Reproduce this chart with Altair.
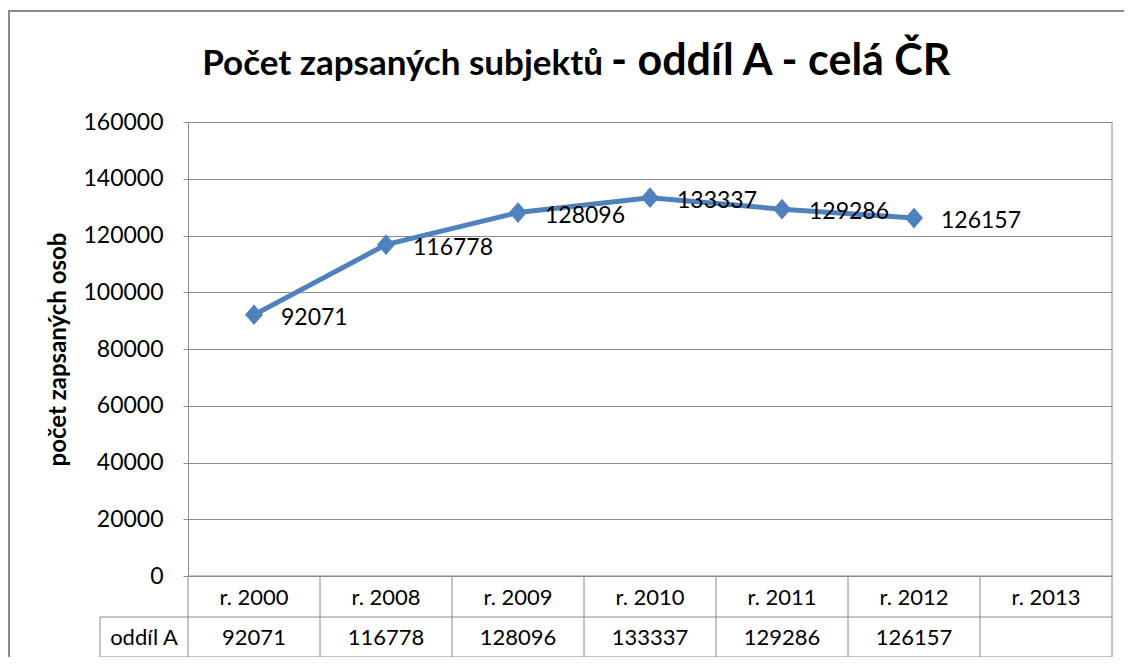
import altair as alt
import pandas as pd

categories = ["r. 2000", "r. 2008", "r. 2009", "r. 2010", "r. 2011", "r. 2012", "r. 2013"]
values = [92071, 116778, 128096, 133337, 129286, 126157, None]
y_ticks = [0, 20000, 40000, 60000, 80000, 100000, 120000, 140000, 160000]
series_name = "oddíl A"
title_small = "Počet zapsaných subjektů"
title_large = "- oddíl A - celá ČR"
y_title = "počet zapsaných osob"

FONT = "Lato"
BLUE = "#4F81BD"
GRAY = "#8a8a8a"
W, H = 924, 454
ROW1, ROW2 = 41, 40

df = pd.DataFrame({
    "cat": categories,
    "val": values,
    "lab": ["" if v is None else str(v) for v in values],
})
df_valid = df.dropna(subset=["val"])

xenc = alt.X("cat:N", sort=categories,
             scale=alt.Scale(domain=categories, paddingInner=0, paddingOuter=0),
             axis=None)
yscale = alt.Scale(domain=[0, 160000], nice=False, zero=True)

base = alt.Chart(df_valid)

line = base.mark_line(color=BLUE, strokeWidth=5).encode(
    x=xenc,
    y=alt.Y("val:Q", scale=yscale,
            axis=alt.Axis(values=y_ticks, format="d", title=y_title, grid=True,
                          gridColor=GRAY, gridWidth=1,
                          domainColor=GRAY, domainWidth=1,
                          tickColor=GRAY, tickSize=5,
                          labelPadding=20, labelFont=FONT, labelFontSize=23,
                          labelColor="black",
                          titleFont=FONT, titleFontSize=24, titleFontWeight="bold",
                          titleColor="black", titlePadding=12)),
)

diamond = "M0,-1.15L1,0L0,1.15L-1,0Z"
points = base.mark_point(shape=diamond, filled=True, color=BLUE, size=324, opacity=1).encode(
    x=xenc, y=alt.Y("val:Q", scale=yscale))

labels = base.mark_text(align="left", baseline="middle", dx=27, dy=3,
                        font=FONT, fontSize=23, color="black").encode(
    x=xenc, y=alt.Y("val:Q", scale=yscale), text="lab:N")

# data table
tbl = alt.Chart(df)
cat_text = tbl.mark_text(font=FONT, fontSize=22, color="black", baseline="middle").encode(
    x=xenc, y=alt.value(H + ROW1 / 2 + 1), text="cat:N")
val_text = tbl.mark_text(font=FONT, fontSize=22, color="black", baseline="middle").encode(
    x=xenc, y=alt.value(H + ROW1 + ROW2 / 2 + 1), text="lab:N")
vlines = tbl.mark_rule(color=GRAY, strokeWidth=1).encode(
    x=alt.X("cat:N", sort=categories,
            scale=alt.Scale(domain=categories, paddingInner=0, paddingOuter=0),
            axis=None, bandPosition=0),
    y=alt.value(H), y2=alt.value(H + ROW1 + ROW2))

deco = alt.Chart(pd.DataFrame({"k": [0]}))
right_line = deco.mark_rule(color=GRAY, strokeWidth=1).encode(
    x=alt.value(W), y=alt.value(0), y2=alt.value(H + ROW1 + ROW2))
h0 = deco.mark_rule(color=GRAY, strokeWidth=1).encode(
    x=alt.value(0), x2=alt.value(W), y=alt.value(H))
h1 = deco.mark_rule(color=GRAY, strokeWidth=1).encode(
    x=alt.value(-88), x2=alt.value(W), y=alt.value(H + ROW1))
h2 = deco.mark_rule(color=GRAY, strokeWidth=1).encode(
    x=alt.value(-88), x2=alt.value(W), y=alt.value(H + ROW1 + ROW2))
vhead = deco.mark_rule(color=GRAY, strokeWidth=1).encode(
    x=alt.value(-88), y=alt.value(H + ROW1), y2=alt.value(H + ROW1 + ROW2))
head_text = deco.mark_text(font=FONT, fontSize=22, color="black", baseline="middle").encode(
    x=alt.value(-44), y=alt.value(H + ROW1 + ROW2 / 2 + 1), text=alt.value(series_name))

outer_top = deco.mark_rule(color=GRAY, strokeWidth=2).encode(
    x=alt.value(-180), x2=alt.value(W + 12), y=alt.value(-111))
outer_left = deco.mark_rule(color=GRAY, strokeWidth=2).encode(
    x=alt.value(-179), y=alt.value(-112), y2=alt.value(H + 100))

t1 = deco.mark_text(font=FONT, fontSize=35, fontWeight="bold", color="black",
                    align="right", baseline="alphabetic").encode(
    x=alt.value(415), y=alt.value(-47), text=alt.value(title_small))
t2 = deco.mark_text(font=FONT, fontSize=43, fontWeight="bold", color="black",
                    align="left", baseline="alphabetic").encode(
    x=alt.value(423), y=alt.value(-47), text=alt.value(title_large))

chart = alt.layer(
    line, points, labels,
    vlines, right_line, h0, h1, h2, vhead,
    cat_text, val_text, head_text,
    outer_top, outer_left, t1, t2,
).properties(
    width=W, height=H,
    autosize=alt.AutoSizeParams(type="none"),
    padding={"left": 180, "top": 114, "right": 12, "bottom": 81},
    background="white",
).configure_view(stroke=None)

chart.save("out.html", embed_options={"renderer": "svg", "actions": False})
